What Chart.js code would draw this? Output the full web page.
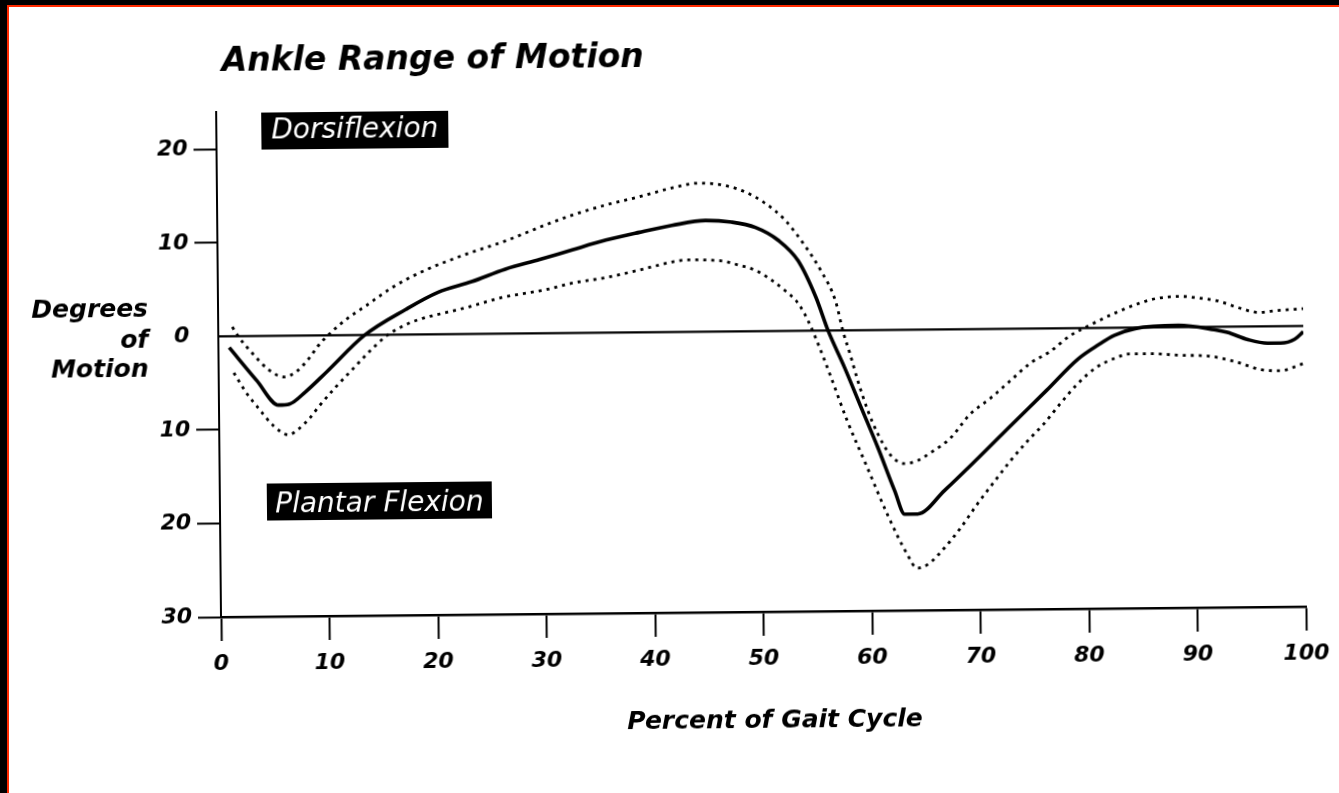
<!DOCTYPE html>
<html>
<head>
<meta charset="utf-8">
<script src="https://cdn.jsdelivr.net/npm/chart.js@4.4.1/dist/chart.umd.min.js"></script>
<style>
  html, body { margin: 0; padding: 0; width: 1339px; height: 793px; overflow: hidden; background: #fff; }
  #wrap { position: absolute; left: 0; top: 0; width: 1339px; height: 793px; }
  #c { position: absolute; left: 0; top: 0; background: #fff;
       transform-origin: 221px 617px; transform: rotate(-0.55deg); }
  .bk { position: absolute; background: #000; }
  .rd { position: absolute; background: #ff2a00; }
</style>
</head>
<body>
<div id="wrap">
  <canvas id="c" width="1339" height="793"></canvas>
  <div class="bk" style="left:0;top:0;width:1339px;height:5px"></div>
  <div class="bk" style="left:0;top:0;width:7px;height:793px"></div>
  <div class="rd" style="left:7px;top:5px;width:1332px;height:2px"></div>
  <div class="rd" style="left:7px;top:5px;width:2px;height:788px"></div>
</div>
<script>
// ---- text ----
const chartTitle = 'Ankle Range of Motion';
const yTitleLines = ['Degrees', 'of', 'Motion'];
const xTitle = 'Percent of Gait Cycle';
const upperLabel = 'Dorsiflexion';
const lowerLabel = 'Plantar Flexion';

// ---- ticks ----
const xTickValues = [0, 10, 20, 30, 40, 50, 60, 70, 80, 90, 100];
const xTickLabels = ['0', '10', '20', '30', '40', '50', '60', '70', '80', '90', '100'];
const yTickValues = [-30, -20, -10, 0, 10, 20];
const yTickLabels = ['30', '20', '10', '0', '10', '20'];

// ---- mean ankle angle (solid) ----
const meanX = [1, 3.5, 5.5, 6.5, 8, 10, 13.5, 17.3, 20.3, 23.4, 26.5, 29.7, 32.7, 35.8, 38.9, 41.9, 45, 47.4, 49.6, 51.7, 53.5, 55.1, 56.2, 57.7, 59.2, 60.7, 62.2, 63.1, 64.3, 66.8, 69.9, 72.9, 76.3, 79.2, 81.1, 82.6, 84.5, 88.5, 91.8, 93, 94.9, 96.7, 97.9, 99.2, 100];
const meanY = [-1.2, -4.75, -7.4, -7.3, -6.0, -3.85, 0, 2.7, 4.5, 5.6, 6.9, 7.9, 8.9, 9.9, 10.7, 11.4, 11.9, 11.7, 11.1, 9.7, 7.5, 3.6, 0, -4.0, -8.3, -12.6, -17.2, -19.7, -19.7, -17.2, -13.8, -10.4, -6.6, -3.3, -1.8, -0.8, -0.1, 0.2, -0.3, -0.6, -1.4, -1.8, -1.8, -1.4, -0.6];

// ---- upper band (dotted) ----
const upperX = [1.3, 1.9, 3.1, 4.6, 6.0, 7.1, 8.3, 9.2, 10.2, 11.8, 13.6, 16.0, 18.8, 22.8, 26.5, 30.5, 32.7, 35.8, 38.9, 41.9, 44.4, 46.9, 48.7, 50.5, 52.3, 54.2, 55.6, 56.9, 57.6, 58.2, 58.9, 59.8, 60.7, 61.8, 63.1, 64.3, 65.5, 67.4, 69.2, 71.1, 72.9, 74.8, 76.6, 78.5, 80.3, 82.5, 84.9, 86.5, 88.6, 90.4, 92.2, 94.1, 95.9, 97.7, 100];
const upperY = [1.0, -0.1, -1.8, -3.6, -4.4, -3.9, -2.5, -1.1, 0.1, 1.7, 3.1, 5.0, 6.7, 8.5, 9.9, 11.7, 12.6, 13.65, 14.5, 15.4, 15.9, 15.6, 14.9, 13.7, 11.9, 9.0, 6.4, 3.2, -0.2, -2.5, -5.4, -8.6, -11.1, -13.3, -14.3, -14.0, -13.2, -11.6, -9.1, -7.4, -5.6, -3.7, -2.5, -0.8, 0.3, 1.5, 2.6, 3.1, 3.3, 3.1, 2.75, 2.0, 1.5, 1.7, 1.85];

// ---- lower band (dotted) ----
const lowerX = [1.4, 2.5, 3.7, 5.0, 6.4, 7.3, 8.3, 9.2, 10.8, 12.3, 13.8, 15.4, 16.9, 18.5, 20.9, 23.1, 26.1, 30.4, 32.7, 35.8, 38.8, 41.9, 43.2, 46.2, 48, 49.6, 51.1, 52.3, 53.5, 54.4, 55.3, 56.4, 57.9, 59.7, 61.5, 63.3, 64.2, 65.2, 66.7, 68.2, 69.8, 71.4, 72.9, 74.5, 76.0, 77.5, 79.1, 80.9, 82.5, 84.0, 86.1, 88.6, 91.1, 93.6, 96.0, 97.8, 100];
const lowerY = [-3.9, -6.0, -7.8, -9.6, -10.6, -10.0, -8.9, -7.6, -5.5, -3.7, -1.9, -0.2, 0.85, 1.6, 2.3, 2.9, 3.85, 4.7, 5.35, 5.9, 6.65, 7.5, 7.7, 7.6, 7.1, 6.5, 5.4, 4.3, 2.9, 1.0, -1.5, -4.9, -9.7, -14.7, -19.7, -24.0, -25.5, -25.1, -23.4, -21.3, -18.7, -16.3, -14.1, -12.0, -10.2, -8.1, -6.0, -4.2, -3.3, -2.8, -2.8, -3.0, -3.1, -3.7, -4.6, -4.75, -4.0];

// ---- reference (neutral) line ----
const zeroX = [0, 100];
const zeroY = [0, 0];

const pts = (xs, ys) => xs.map((x, i) => ({ x: x, y: ys[i] }));
const FONT = '"DejaVu Sans", "Liberation Sans", sans-serif';

const textPlugin = {
  id: 'texts',
  afterDraw(chart) {
    const ctx = chart.ctx;
    ctx.save();
    ctx.fillStyle = '#000';
    ctx.textBaseline = 'alphabetic';
    // title
    ctx.font = 'italic bold 33px ' + FONT;
    ctx.textAlign = 'left';
    ctx.fillText(chartTitle, 227, 71);
    // y-axis title
    ctx.font = 'italic bold 25px ' + FONT;
    ctx.textAlign = 'right';
    const yBase = [316, 347, 376];
    yTitleLines.forEach((t, i) => ctx.fillText(t, 151, yBase[i]));
    // x-axis title
    ctx.font = 'italic bold 25px ' + FONT;
    ctx.textAlign = 'center';
    ctx.fillText(xTitle, 774, 733);
    // annotation boxes
    ctx.fillStyle = '#000';
    ctx.fillRect(266, 113, 187, 37);
    ctx.fillRect(268, 484, 225, 37);
    ctx.fillStyle = '#fff';
    ctx.font = 'italic 28px ' + FONT;
    ctx.textAlign = 'center';
    ctx.fillText(upperLabel, 266 + 187 / 2, 139);
    ctx.fillText(lowerLabel, 268 + 225 / 2, 513);
    ctx.restore();
  }
};

const tickFont = { family: FONT, size: 22, style: 'italic', weight: 'bold' };

new Chart(document.getElementById('c'), {
  type: 'line',
  data: {
    datasets: [
      { data: pts(zeroX, zeroY), borderColor: '#000', borderWidth: 2.2, pointRadius: 0, tension: 0 },
      { data: pts(upperX, upperY), borderColor: '#000', borderWidth: 2.8, borderDash: [3, 5], pointRadius: 0, cubicInterpolationMode: 'monotone' },
      { data: pts(lowerX, lowerY), borderColor: '#000', borderWidth: 2.8, borderDash: [3, 5], pointRadius: 0, cubicInterpolationMode: 'monotone' },
      { data: pts(meanX, meanY), borderColor: '#000', borderWidth: 3.6, pointRadius: 0, cubicInterpolationMode: 'monotone' }
    ]
  },
  options: {
    responsive: false,
    animation: false,
    devicePixelRatio: 1,
    layout: { padding: { top: 112, right: 29, left: 0, bottom: 0 } },
    plugins: { legend: { display: false }, tooltip: { enabled: false }, title: { display: false } },
    scales: {
      x: {
        type: 'linear', min: 0, max: 100,
        afterFit(s) { s.height = 176; },
        afterBuildTicks(s) { s.ticks = xTickValues.map(v => ({ value: v })); },
        border: { display: true, color: '#000', width: 2.5 },
        grid: { drawOnChartArea: false, drawTicks: true, tickLength: 24, tickColor: '#000', tickWidth: 2 },
        ticks: {
          color: '#000', font: tickFont, padding: 10, maxRotation: 0, autoSkip: false,
          callback: (v) => xTickLabels[xTickValues.indexOf(v)]
        }
      },
      y: {
        type: 'linear', min: -30, max: 24,
        afterFit(s) { s.width = 221; },
        afterBuildTicks(s) { s.ticks = yTickValues.map(v => ({ value: v })); },
        border: { display: true, color: '#000', width: 2 },
        grid: {
          drawOnChartArea: false, drawTicks: true, tickLength: 23, tickWidth: 2,
          tickColor: (c) => (c.tick && c.tick.value === 0) ? 'rgba(0,0,0,0)' : '#000'
        },
        ticks: {
          color: '#000', font: tickFont, padding: 6, autoSkip: false,
          callback: (v) => yTickLabels[yTickValues.indexOf(v)]
        }
      }
    }
  },
  plugins: [textPlugin]
});
</script>
</body>
</html>
